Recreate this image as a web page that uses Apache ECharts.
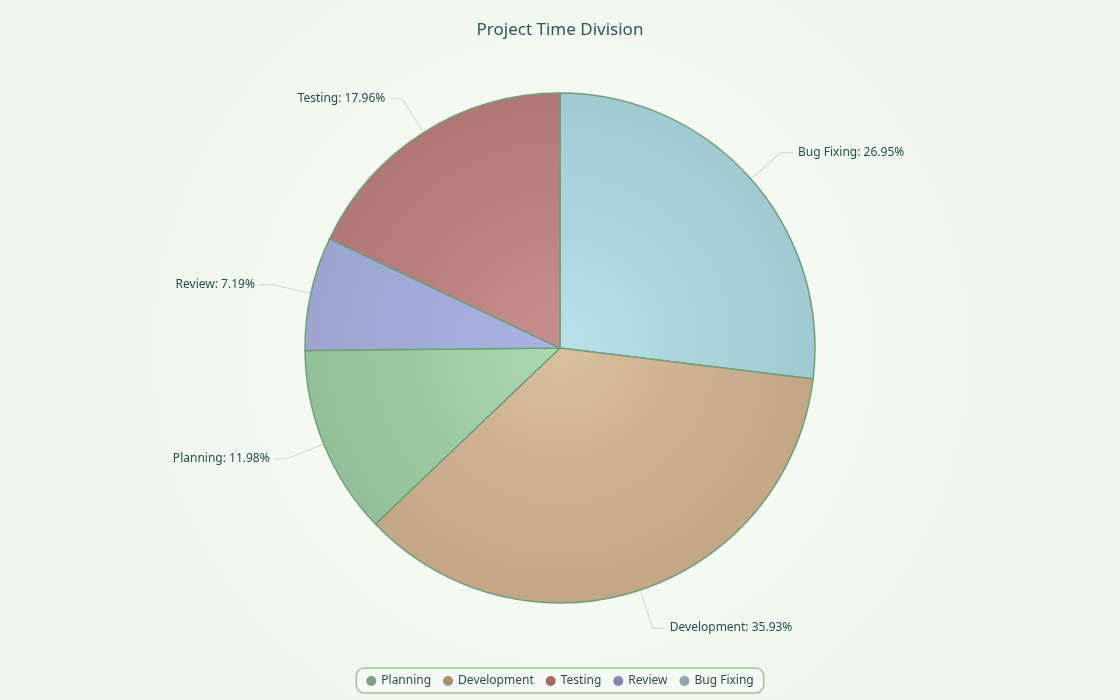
<!DOCTYPE html>
<html><head><meta charset="utf-8">
<script src="https://cdn.jsdelivr.net/npm/echarts@6/dist/echarts.min.js"></script>
<style>html,body{margin:0;padding:0;}#c{width:1120px;height:700px;}</style>
</head><body><div id="c"></div>
<script>
const title = 'Project Time Division';
const legendOrder = ['Planning', 'Development', 'Testing', 'Review', 'Bug Fixing'];
const categories = ['Bug Fixing', 'Development', 'Planning', 'Review', 'Testing'];
const values = [45, 60, 20, 12, 30];
const innerColors = ['#b8e2e8', '#d8bf9e', '#aad9b0', '#aab2e2', '#c88f8f'];
const edgeColors = ['#a0c9d1', '#c2a685', '#93bf98', '#9ca4cf', '#b07777'];
const iconColors = ['#8ea9b0', '#a88f76', '#7ea383', '#8386b0', '#a56a6a'];

const total = values.reduce((a, b) => a + b, 0);
const CX = 560, CY = 348, R = 255;
function grad(i) {
  return {
    type: 'radial', x: CX, y: CY, r: R / 0.66, global: true,
    colorStops: [
      { offset: 0, color: innerColors[i] },
      { offset: 0.66, color: edgeColors[i] },
      { offset: 1, color: iconColors[i] }
    ]
  };
}
const FONT = "'Segoe UI', 'Noto Sans', sans-serif";
const chart = echarts.init(document.getElementById('c'));
chart.setOption({
  backgroundColor: {
    type: 'radial', x: 0.5, y: 0.5, r: 0.75,
    colorStops: [{ offset: 0, color: '#fafcf9' }, { offset: 1, color: '#eef6ec' }]
  },
  title: {
    text: title, left: 'center', top: 17,
    textStyle: { fontFamily: FONT, fontSize: 17, fontWeight: 'normal', color: '#2b5c52' }
  },
  legend: {
    data: legendOrder, bottom: 7, left: 'center',
    icon: 'circle', itemWidth: 10, itemHeight: 10, itemGap: 12,
    itemStyle: { borderWidth: 0 },
    borderColor: '#9cc49e', borderWidth: 1.5, borderRadius: 8, padding: [7, 10, 6, 10],
    backgroundColor: 'rgba(255,255,255,0.3)',
    textStyle: { fontFamily: FONT, fontSize: 12, color: '#2b5048' }
  },
  series: [{
    type: 'pie', center: [CX, CY], radius: R,
    startAngle: 90, clockwise: true,
    data: categories.map((n, i) => ({ name: n, value: values[i], itemStyle: { color: grad(i) } })),
    itemStyle: { borderColor: '#6f9f78', borderWidth: 1.5 },
    label: {
      formatter: p => p.name + ': ' + (p.value / total * 100).toFixed(2) + '%',
      fontFamily: FONT, fontSize: 12, color: '#245248'
    },
    labelLine: { length: 40, length2: 12, lineStyle: { color: '#cfe1cf', width: 1.2 } },
    emphasis: { disabled: true }
  }]
});
</script></body></html>
